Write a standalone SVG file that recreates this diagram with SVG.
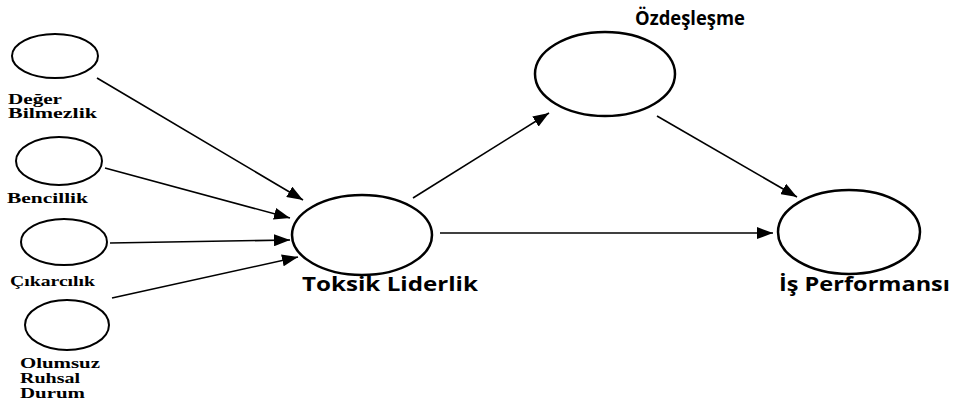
<svg xmlns="http://www.w3.org/2000/svg" width="959" height="403" viewBox="0 0 959 403">
<defs>
<style>
.node{fill:#fff;stroke:#000;stroke-width:2.5}
.sm{fill:#fff;stroke:#000;stroke-width:2}
.lbl{font-family:"Liberation Serif","Times New Roman",serif;font-weight:bold;font-size:14px;fill:#000}
.big{font-family:"Open Sans","Noto Sans","Liberation Sans",sans-serif;font-weight:bold;font-size:19px;fill:#000}
</style>
<marker id="ahb" markerWidth="16" markerHeight="12" refX="16" refY="6" orient="auto" markerUnits="userSpaceOnUse" viewBox="0 0 16 12">
<path d="M0,0 L16,6 L0,12 Z" fill="#000"/>
</marker>
</defs>
<rect width="959" height="403" fill="#fff"/>
<g id="connectors" stroke="#000" stroke-width="1.6" marker-end="url(#ahb)">
<line x1="97" y1="78" x2="303" y2="200"/>
<line x1="105" y1="168" x2="290" y2="218"/>
<line x1="110" y1="243" x2="290" y2="240"/>
<line x1="112" y1="298" x2="298" y2="257"/>
<line x1="413" y1="198" x2="549" y2="113"/>
<line x1="657" y1="116" x2="797" y2="197"/>
<line x1="440" y1="233" x2="773" y2="233"/>
</g>
<g id="deger">
<ellipse class="sm" cx="55" cy="56" rx="43" ry="22"/>
<text class="lbl" x="8" y="104" textLength="54" lengthAdjust="spacingAndGlyphs">Değer</text>
<text class="lbl" x="8" y="118" textLength="89" lengthAdjust="spacingAndGlyphs">Bilmezlik</text>
</g>
<g id="bencillik">
<ellipse class="sm" cx="59" cy="161" rx="43" ry="24"/>
<text class="lbl" x="7" y="203" textLength="81" lengthAdjust="spacingAndGlyphs">Bencillik</text>
</g>
<g id="cikarcilik">
<ellipse class="sm" cx="64" cy="242" rx="43" ry="23"/>
<text class="lbl" x="10" y="286" textLength="85" lengthAdjust="spacingAndGlyphs">Çıkarcılık</text>
</g>
<g id="olumsuz">
<ellipse class="sm" cx="67" cy="325" rx="42" ry="25"/>
<text class="lbl" x="20" y="368" textLength="80" lengthAdjust="spacingAndGlyphs">Olumsuz</text>
<text class="lbl" x="20" y="383" textLength="60" lengthAdjust="spacingAndGlyphs">Ruhsal</text>
<text class="lbl" x="20" y="398" textLength="65" lengthAdjust="spacingAndGlyphs">Durum</text>
</g>
<g id="toksik">
<ellipse class="node" cx="362" cy="235" rx="70" ry="40"/>
<text class="big" x="302" y="291" textLength="176" lengthAdjust="spacingAndGlyphs">Toksik Liderlik</text>
</g>
<g id="ozdeslesme">
<ellipse class="node" cx="605" cy="74" rx="70" ry="42"/>
<text class="big" x="635" y="25" textLength="110" lengthAdjust="spacingAndGlyphs">Özdeşleşme</text>
</g>
<g id="isperformansi">
<ellipse class="node" cx="849" cy="232" rx="71" ry="42"/>
<text class="big" x="779" y="291" textLength="171" lengthAdjust="spacingAndGlyphs">İş Performansı</text>
</g>
</svg>
